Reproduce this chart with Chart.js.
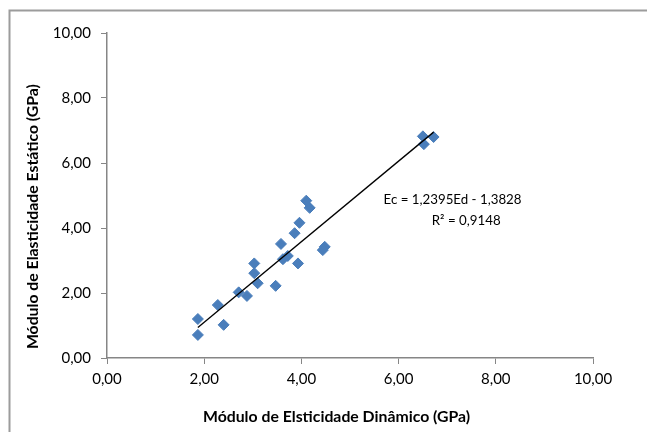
<!DOCTYPE html>
<html>
<head>
<meta charset="utf-8">
<script src="https://cdn.jsdelivr.net/npm/chart.js@4.4.0/dist/chart.umd.min.js"></script>
<style>
html,body{margin:0;padding:0;background:#fff;}
#wrap{width:647px;height:432px;position:relative;}
</style>
</head>
<body>
<div id="wrap"><canvas id="c" width="647" height="432"></canvas></div>
<script>
// Data
const moduloDinamico = [1.87, 1.87, 2.28, 2.40, 2.71, 2.88, 3.03, 3.03, 3.10, 3.47, 3.58, 3.62, 3.72, 3.93, 4.48, 4.44, 4.10, 4.17, 3.96, 3.86, 6.50, 6.52, 6.72];
const moduloEstatico = [1.20, 0.71, 1.63, 1.02, 2.02, 1.91, 2.91, 2.61, 2.30, 2.22, 3.51, 3.04, 3.14, 2.91, 3.42, 3.32, 4.84, 4.62, 4.16, 3.84, 6.82, 6.58, 6.80];
const trendX = [1.87, 6.72];
const trendY = [0.94, 6.95];
const xTickLabels = ['0,00', '2,00', '4,00', '6,00', '8,00', '10,00'];
const yTickLabels = ['0,00', '2,00', '4,00', '6,00', '8,00', '10,00'];
const xTitle = 'Módulo de Elsticidade Dinâmico (GPa)';
const yTitle = 'Módulo de Elasticidade Estático (GPa)';
const equationLines = ['Ec = 1,2395Ed - 1,3828', 'R² = 0,9148'];

const points = moduloDinamico.map((x, i) => ({x: x, y: moduloEstatico[i]}));
const trend = trendX.map((x, i) => ({x: x, y: trendY[i]}));

const frame = {
  id: 'frame',
  beforeDraw(chart) {
    const ctx = chart.ctx;
    ctx.save();
    ctx.fillStyle = '#fff';
    ctx.fillRect(0, 0, chart.width, chart.height);
    ctx.strokeStyle = '#9c9c9c';
    ctx.lineWidth = 2;
    ctx.strokeRect(9.5, 10.5, 700, 500);
    ctx.restore();
  }
};

const equation = {
  id: 'equation',
  afterDatasetsDraw(chart) {
    const ctx = chart.ctx;
    const xs = chart.scales.x, ys = chart.scales.y;
    ctx.save();
    ctx.font = '13.3px Lato';
    ctx.fillStyle = '#000';
    ctx.textAlign = 'center';
    ctx.textBaseline = 'middle';
    ctx.fillText(equationLines[0], xs.getPixelForValue(7.11), ys.getPixelForValue(4.86));
    ctx.fillText(equationLines[1], xs.getPixelForValue(7.39), ys.getPixelForValue(4.215));
    ctx.restore();
  }
};

const axisColor = '#868686';
const tickFont = {family: 'Lato', size: 15};
const titleFont = {family: 'Lato', size: 15.8, weight: 'bold'};

new Chart(document.getElementById('c'), {
  type: 'scatter',
  data: {
    datasets: [
      {
        label: 'dados',
        data: points,
        pointStyle: 'rectRot',
        pointRadius: 5.5,
        pointHoverRadius: 5.5,
        backgroundColor: '#4A7EBB',
        borderColor: '#4A7EBB',
        borderWidth: 1,
        order: 2
      },
      {
        type: 'line',
        label: 'tendência',
        data: trend,
        borderColor: '#000',
        borderWidth: 1.3,
        pointRadius: 0,
        fill: false,
        order: 1
      }
    ]
  },
  options: {
    responsive: false,
    animation: false,
    devicePixelRatio: 1,
    layout: {padding: {left: 0, top: 33, right: 54, bottom: 0}},
    plugins: {legend: {display: false}, tooltip: {enabled: false}},
    scales: {
      x: {
        type: 'linear', min: 0, max: 10,
        afterFit(s) { s.height = 74; },
        ticks: {
          stepSize: 2, color: '#000', font: tickFont, padding: 6, maxRotation: 0,
          callback: (v) => xTickLabels[Math.round(v / 2)]
        },
        grid: {drawOnChartArea: false, drawTicks: true, tickLength: 6, color: axisColor},
        border: {color: axisColor, width: 1.5},
        title: {display: true, text: xTitle + '       ', color: '#000', font: titleFont, padding: {top: 0, bottom: 5.5}}
      },
      y: {
        type: 'linear', min: 0, max: 10,
        afterFit(s) { s.width = 107; },
        ticks: {
          stepSize: 2, color: '#000', font: tickFont, padding: 10,
          callback: (v) => yTickLabels[Math.round(v / 2)]
        },
        grid: {drawOnChartArea: false, drawTicks: true, tickLength: 6, color: axisColor},
        border: {color: axisColor, width: 1.5},
        title: {display: true, text: yTitle + '           ', color: '#000', font: titleFont, padding: {top: 23.5, bottom: 0}}
      }
    }
  },
  plugins: [frame, equation]
});
</script>
</body>
</html>
